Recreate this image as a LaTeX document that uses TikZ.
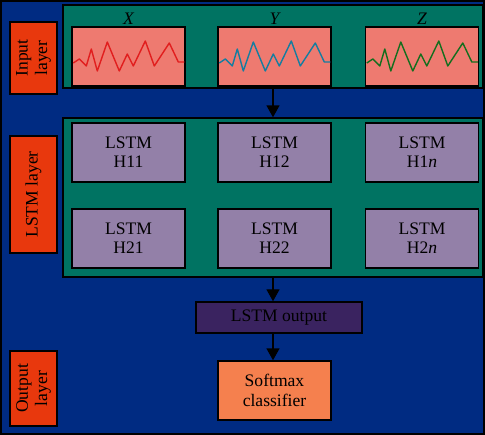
\documentclass[tikz,border=0pt]{standalone}
\usepackage{fontspec}
\setmainfont{Liberation Serif}
\usetikzlibrary{arrows.meta,positioning}
\definecolor{bgblue}{RGB}{0,43,130}
\definecolor{panteal}{RGB}{0,115,98}
\definecolor{labred}{RGB}{232,56,13}
\definecolor{sigpink}{RGB}{238,122,112}
\definecolor{cellpur}{RGB}{147,128,168}
\definecolor{outpur}{RGB}{58,35,96}
\definecolor{smorange}{RGB}{245,128,78}
\definecolor{cx}{RGB}{225,30,30}
\definecolor{cy}{RGB}{20,125,160}
\definecolor{cz}{RGB}{20,110,30}
\newcommand\boxfont{\fontsize{10}{11}\selectfont}
\tikzset{
  edged/.style={draw=black, line width=0.8pt, inner sep=0pt},
  panel/.style={edged, fill=panteal, minimum width=8.4cm},
  lab/.style={edged, fill=labred, rotate=90, minimum height=0.94cm, align=center, font=\boxfont},
  sig/.style={edged, fill=sigpink, minimum width=2.26cm, minimum height=1.18cm},
  cell/.style={edged, fill=cellpur, minimum width=2.26cm, minimum height=1.18cm, align=center, font=\boxfont},
  outbox/.style={edged, fill=outpur, minimum width=3.32cm, minimum height=0.62cm, font=\boxfont},
  smbox/.style={edged, fill=smorange, minimum width=2.26cm, minimum height=1.18cm, align=center, font=\boxfont},
  axlab/.style={inner sep=1pt, font=\boxfont\itshape},
  wave/.style={line width=0.8pt, line join=round},
  flow/.style={-{Triangle[length=2.4mm,width=2.6mm]}, black, line width=0.8pt},
}
\begin{document}
\begin{tikzpicture}[x=0.02cm, y=-0.02cm]
 \useasboundingbox (0,0) rectangle (485,435);
 \draw[fill=bgblue, line width=0.8pt] (1,1) rectangle (484,434);
 % panels and layer labels
 \node[panel, minimum height=1.66cm] (inpanel) at (273,46.5) {};
 \node[panel, minimum height=3.18cm] (lstmpanel) at (273,197.5) {};
 \node[lab, minimum width=1.44cm] (inlab) at (33.5,58) {Input\\layer};
 \node[lab, minimum width=2.34cm] (lstmlab) at (33.5,194.5) {LSTM layer};
 \node[lab, minimum width=1.5cm] (outlab) at (33.5,388.5) {Output\\layer};
 \foreach \cx/\nm/\col in {128.5/X/cx, 274.5/Y/cy, 422/Z/cz}{
   \node[sig] (sig\nm) at (\cx,56.5) {};
   \node[axlab, above=0pt of sig\nm] (ax\nm) {\nm};
   \draw[wave, \col, shift={(sig\nm.west)}] plot coordinates {(2,6.5) (8,2.5) (15,9.5)
     (20,-7.5) (26,14.5) (36,-14.5) (48,14.5) (56,-2.5) (62,9.5) (74,-15.5) (83,9.5)
     (98,-13.5) (107,5.5) (113,5.5)};
 }
 \foreach \r/\cy in {1/152.5, 2/238.5}{
   \foreach \c/\cx/\tx in {1/128.5/1, 2/274.5/2, n/422/\textit{n}}{
     \node[cell] (h\r\c) at (\cx,\cy) {LSTM\\H\r\tx};
   }
 }
 \node[outbox] (lstmout) at (279,317.5) {LSTM output};
 \node[smbox] (softmax) at (274.5,390.5) {Softmax\\classifier};
 \draw[flow] (inpanel.south) -- (lstmpanel.north);
 \draw[flow] (lstmpanel.south) -- (lstmpanel.south |- lstmout.north);
 \draw[flow] (lstmpanel.south |- lstmout.south) -- (lstmpanel.south |- softmax.north);
\end{tikzpicture}
\end{document}
